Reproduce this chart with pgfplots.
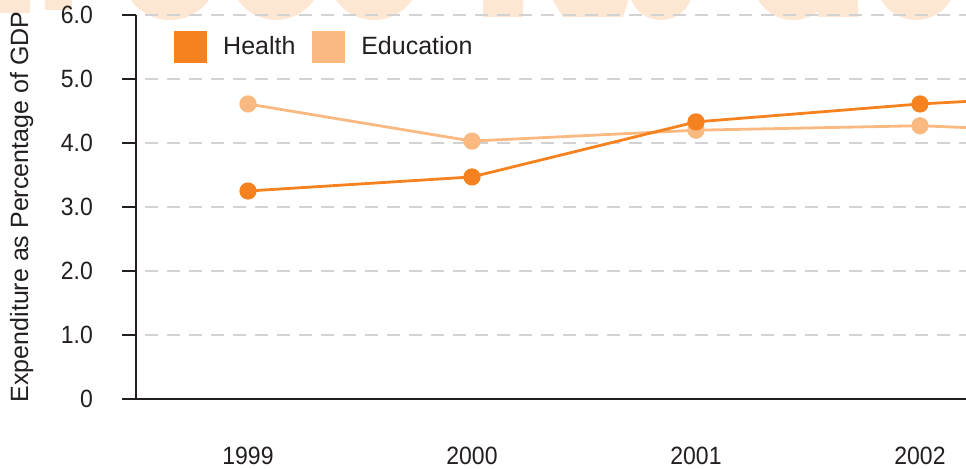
\documentclass[border=0pt]{standalone}
\usepackage{fontspec}
\setmainfont{Liberation Sans}
\newfontfamily\condfont[FakeStretch=0.92]{Liberation Sans}
\usepackage{pgfplots}
\pgfplotsset{compat=1.18}
\definecolor{healthc}{HTML}{F5821F}
\definecolor{educc}{HTML}{FBB982}
\definecolor{gridc}{HTML}{D2D2D2}
\definecolor{axc}{HTML}{231F20}
\definecolor{wmc}{HTML}{FDE6D2}
\begin{document}
\begin{tikzpicture}
\path[use as bounding box] (-68pt,-34.5pt) rectangle (415pt,199.5pt);
% faint cut-off watermark lettering at the top
\begin{scope}
\clip (-68pt,-34.5pt) rectangle (415pt,199.5pt);
\fill[wmc] (-68pt,193pt) rectangle (-53pt,205pt);
\fill[wmc] (-45.5pt,194.5pt) rectangle (-32pt,205pt);
\fill[wmc] (17pt,213.5pt) circle (24pt);
\fill[wmc] (70pt,212.5pt) circle (23pt);
\fill[wmc] (119pt,212.5pt) circle (23pt);
\fill[wmc] (173.5pt,191pt) rectangle (193.5pt,205pt);
\fill[wmc] (213.5pt,191pt) -- (243.5pt,191pt) -- (248pt,205pt) -- (205pt,205pt) -- cycle;
\fill[wmc] (262.5pt,205.5pt) circle (16pt);
\fill[wmc] (328.5pt,209.5pt) circle (20pt);
\fill[wmc] (341pt,191pt) rectangle (361pt,205pt);
\fill[wmc] (390pt,209.5pt) circle (20pt);
\end{scope}
\begin{axis}[
  scale only axis,
  width=415pt, height=192pt,
  xmin=1998.5, xmax=2002.2054,
  ymin=0, ymax=6,
  axis x line=bottom, axis y line=left,
  axis line style={-, axc, line width=1.4pt},
  x axis line style={shorten <=-7pt},
  xtick={1999,2000,2001,2002},
  xticklabels={1999,2000,2001,2002},
  x tick style={draw=none},
  major x tick style={draw=none},
  ytick={0,1,2,3,4,5,6},
  yticklabels={0,1.0,2.0,3.0,4.0,5.0,6.0},
  y tick style={axc, line width=1.4pt},
  tick align=outside,
  major tick length=7pt,
  ymajorgrids,
  y grid style={gridc, line width=1.4pt, dash pattern=on 6.5pt off 4.5pt, dash phase=6.5pt},
  /pgf/number format/assume math mode=true,
  ticklabel style={font=\condfont\fontsize{12.5}{15}\selectfont, text=axc},
  yticklabel style={anchor=east, xshift=-11pt},
  xticklabel style={anchor=base, yshift=-25.5pt},
  ylabel={Expenditure as Percentage of GDP},
  ylabel style={at={(rel axis cs:-0.1301,0.5)}, anchor=base, font=\fontsize{12.5}{15}\selectfont, text=axc},
  legend style={at={(0.0458,0.9167)}, anchor=west, draw=none, fill=none, inner sep=0pt,
    font=\fontsize{12.5}{15}\selectfont, text=axc,
    /tikz/every even column/.append style={column sep=6.5pt},
    /tikz/every odd column/.append style={column sep=6pt}},
  legend columns=2,
  legend cell align=left,
  reverse legend,
  clip=true,
]
\addplot[educc, line width=1.4pt, mark=*, mark size=3.6pt, mark options={draw=none, fill=educc},
  legend image code/.code={\fill[educc] (0pt,-7.5pt) rectangle (15pt,7.5pt);}]
  coordinates {(1999,4.61) (2000,4.03) (2001,4.20) (2002,4.27) (2003,4.13)};
\addlegendentry{Education}
\addplot[healthc, line width=1.4pt, mark=*, mark size=3.6pt, mark options={draw=none, fill=healthc},
  legend image code/.code={\fill[healthc] (0pt,-7.5pt) rectangle (15pt,7.5pt);}]
  coordinates {(1999,3.25) (2000,3.47) (2001,4.33) (2002,4.61) (2003,4.80)};
\addlegendentry{Health}
\end{axis}
\end{tikzpicture}
\end{document}
